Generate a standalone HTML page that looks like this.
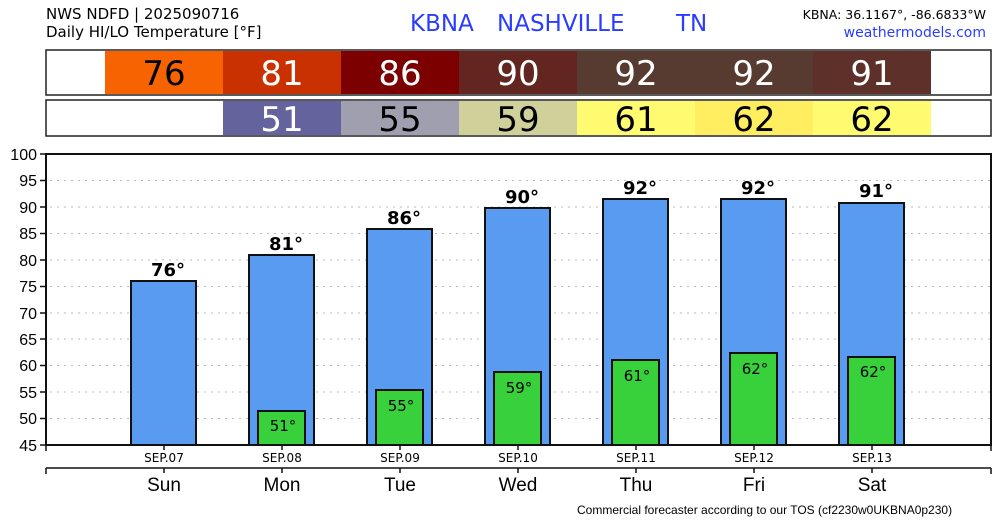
<!DOCTYPE html>
<html><head><meta charset="utf-8"><style>html,body{margin:0;padding:0;background:#fff}svg{display:block}</style></head>
<body>
<svg width="1000" height="520" xmlns="http://www.w3.org/2000/svg" font-family="'DejaVu Sans','Liberation Sans',sans-serif">
<text x="46" y="19" font-size="15" fill="#000">NWS NDFD | 2025090716</text>
<text x="46" y="37" font-size="15" fill="#000">Daily HI/LO Temperature [°F]</text>
<text x="410" y="31" font-size="23" fill="#2a3cff">KBNA</text>
<text x="497" y="31" font-size="23" fill="#2a3cff">NASHVILLE</text>
<text x="676" y="31" font-size="23" fill="#2a3cff">TN</text>
<text x="986" y="19" font-size="12.5" fill="#000" text-anchor="end">KBNA: 36.1167°, -86.6833°W</text>
<text x="986" y="37" font-size="14" fill="#2a3cff" text-anchor="end">weathermodels.com</text>
<rect x="46" y="50" width="945" height="45" fill="#fff" stroke="#222" stroke-width="1.5"/>
<rect x="105" y="51" width="118" height="43" fill="#f76300"/>
<rect x="223" y="51" width="118" height="43" fill="#c93200"/>
<rect x="341" y="51" width="118" height="43" fill="#7d0000"/>
<rect x="459" y="51" width="118" height="43" fill="#632520"/>
<rect x="577" y="51" width="118" height="43" fill="#573a30"/>
<rect x="695" y="51" width="118" height="43" fill="#573a30"/>
<rect x="813" y="51" width="118" height="43" fill="#5e302a"/>
<g font-size="34" text-anchor="middle">
<text x="164" y="85" fill="#000">76</text><text x="282" y="85" fill="#fff">81</text><text x="400" y="85" fill="#fff">86</text><text x="518" y="85" fill="#fff">90</text><text x="636" y="85" fill="#fff">92</text><text x="754" y="85" fill="#fff">92</text><text x="872" y="85" fill="#fff">91</text>
</g>
<rect x="46" y="100" width="945" height="36" fill="#fff" stroke="#222" stroke-width="1.5"/>
<rect x="223" y="101" width="118" height="34" fill="#64639d"/>
<rect x="341" y="101" width="118" height="34" fill="#a09fb0"/>
<rect x="459" y="101" width="118" height="34" fill="#d0d09a"/>
<rect x="577" y="101" width="118" height="34" fill="#fffb70"/>
<rect x="695" y="101" width="118" height="34" fill="#ffee60"/>
<rect x="813" y="101" width="118" height="34" fill="#fffb70"/>
<g font-size="34" text-anchor="middle">
<text x="282" y="131" fill="#fff">51</text><text x="400" y="131" fill="#000">55</text><text x="518" y="131" fill="#000">59</text><text x="636" y="131" fill="#000">61</text><text x="754" y="131" fill="#000">62</text><text x="872" y="131" fill="#000">62</text>
</g>
<g stroke="#bbb" stroke-dasharray="2,5" stroke-width="1">
<line x1="50" x2="990" y1="180.5" y2="180.5"/><line x1="50" x2="990" y1="207" y2="207"/><line x1="50" x2="990" y1="233.5" y2="233.5"/><line x1="50" x2="990" y1="260" y2="260"/><line x1="50" x2="990" y1="286.5" y2="286.5"/><line x1="50" x2="990" y1="313" y2="313"/><line x1="50" x2="990" y1="339" y2="339"/><line x1="50" x2="990" y1="365.5" y2="365.5"/><line x1="50" x2="990" y1="392" y2="392"/><line x1="50" x2="990" y1="418.5" y2="418.5"/>
</g>
<g stroke="#111" stroke-width="2" fill="#589bf0">
<rect x="131" y="281" width="65" height="164"/>
<rect x="249" y="255" width="65" height="190"/>
<rect x="367" y="229" width="65" height="216"/>
<rect x="485" y="208" width="65" height="237"/>
<rect x="603" y="199" width="65" height="246"/>
<rect x="721" y="199" width="65" height="246"/>
<rect x="839" y="203" width="65" height="242"/>
</g>
<g stroke="#111" stroke-width="2" fill="#38d13c">
<rect x="258" y="411" width="47" height="34"/>
<rect x="376" y="390" width="47" height="55"/>
<rect x="494" y="372" width="47" height="73"/>
<rect x="612" y="360" width="47" height="85"/>
<rect x="730" y="353" width="47" height="92"/>
<rect x="848" y="357" width="47" height="88"/>
</g>
<g font-size="18" text-anchor="middle" fill="#000" font-weight="bold">
<text x="168" y="276">76°</text><text x="286" y="250">81°</text><text x="404" y="224">86°</text><text x="522" y="203">90°</text><text x="640" y="194">92°</text><text x="758" y="194">92°</text><text x="876" y="197">91°</text>
</g>
<g font-size="15" text-anchor="middle" fill="#000">
<text x="283" y="431">51°</text><text x="401" y="411">55°</text><text x="519" y="393">59°</text><text x="637" y="381">61°</text><text x="755" y="374">62°</text><text x="873" y="377">62°</text>
</g>
<rect x="46" y="154" width="945" height="291" fill="none" stroke="#111" stroke-width="2"/>
<g font-size="16" text-anchor="end" fill="#000" font-family="'Liberation Sans',sans-serif">
<text x="37" y="160">100</text><text x="37" y="186">95</text><text x="37" y="213">90</text><text x="37" y="239">85</text><text x="37" y="266">80</text><text x="37" y="292">75</text><text x="37" y="319">70</text><text x="37" y="345">65</text><text x="37" y="371">60</text><text x="37" y="398">55</text><text x="37" y="424">50</text><text x="37" y="451">45</text>
</g>
<g stroke="#111" stroke-width="1.5">
<line x1="40" x2="46" y1="154" y2="154"/><line x1="40" x2="46" y1="180.5" y2="180.5"/><line x1="40" x2="46" y1="207" y2="207"/><line x1="40" x2="46" y1="233.5" y2="233.5"/><line x1="40" x2="46" y1="260" y2="260"/><line x1="40" x2="46" y1="286.5" y2="286.5"/><line x1="40" x2="46" y1="313" y2="313"/><line x1="40" x2="46" y1="339" y2="339"/><line x1="40" x2="46" y1="365.5" y2="365.5"/><line x1="40" x2="46" y1="392" y2="392"/><line x1="40" x2="46" y1="418.5" y2="418.5"/><line x1="40" x2="46" y1="445" y2="445"/>
<line x1="46" x2="46" y1="445" y2="451"/><line x1="164" x2="164" y1="445" y2="450"/><line x1="282" x2="282" y1="445" y2="450"/><line x1="400" x2="400" y1="445" y2="450"/><line x1="518" x2="518" y1="445" y2="450"/><line x1="636" x2="636" y1="445" y2="450"/><line x1="754" x2="754" y1="445" y2="450"/><line x1="872" x2="872" y1="445" y2="450"/><line x1="991" x2="991" y1="445" y2="451"/>
<line x1="46" x2="991" y1="468" y2="468"/>
<line x1="46" x2="46" y1="468" y2="474"/><line x1="164" x2="164" y1="468" y2="473"/><line x1="282" x2="282" y1="468" y2="473"/><line x1="400" x2="400" y1="468" y2="473"/><line x1="518" x2="518" y1="468" y2="473"/><line x1="636" x2="636" y1="468" y2="473"/><line x1="754" x2="754" y1="468" y2="473"/><line x1="872" x2="872" y1="468" y2="473"/><line x1="991" x2="991" y1="468" y2="474"/>
</g>
<g font-size="12" text-anchor="middle" fill="#000">
<text x="164" y="462">SEP.07</text><text x="282" y="462">SEP.08</text><text x="400" y="462">SEP.09</text><text x="518" y="462">SEP.10</text><text x="636" y="462">SEP.11</text><text x="754" y="462">SEP.12</text><text x="872" y="462">SEP.13</text>
</g>
<g font-size="19" text-anchor="middle" fill="#000" font-family="'Liberation Sans',sans-serif">
<text x="164" y="491">Sun</text><text x="282" y="491">Mon</text><text x="400" y="491">Tue</text><text x="518" y="491">Wed</text><text x="636" y="491">Thu</text><text x="754" y="491">Fri</text><text x="872" y="491">Sat</text>
</g>
<text x="577" y="514" font-size="12" font-family="'Liberation Sans',sans-serif" fill="#000">Commercial forecaster according to our TOS (cf2230w0UKBNA0p230)</text>
</svg>
</body></html>
